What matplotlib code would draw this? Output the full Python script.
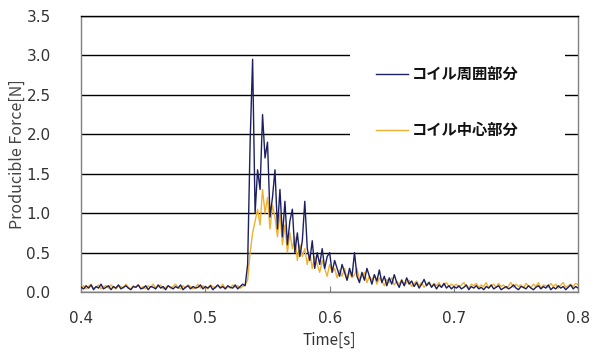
import numpy as np
import matplotlib
matplotlib.use('Agg')
import matplotlib.pyplot as plt
from matplotlib.patches import Rectangle

plt.rcParams['font.family'] = ['Noto Sans CJK JP', 'DejaVu Sans']

# sampled every 2 ms from 0.400 s to 0.800 s (201 points)
time_start = 0.4
time_step = 0.002

outer_force = [
    0.06, 0.04, 0.08, 0.05, 0.09, 0.03, 0.07, 0.05, 0.10, 0.04,
    0.06, 0.08, 0.03, 0.07, 0.05, 0.09, 0.04, 0.06, 0.08, 0.05,
    0.03, 0.07, 0.06, 0.09, 0.04, 0.05, 0.08, 0.03, 0.07, 0.06,
    0.04, 0.09, 0.05, 0.07, 0.03, 0.08, 0.06, 0.04, 0.07, 0.05,
    0.09, 0.03, 0.06, 0.08, 0.04, 0.07, 0.05, 0.06, 0.09, 0.04,
    0.07, 0.05, 0.08, 0.03, 0.06, 0.09, 0.05, 0.07, 0.04, 0.08,
    0.06, 0.05, 0.09, 0.04, 0.07, 0.10, 0.08,
    0.35, 1.90, 2.95, 1.00, 1.55, 1.30, 2.25, 1.70, 1.90, 0.95,
    1.20, 1.55, 0.80, 1.30, 0.70, 1.15, 0.60, 0.90, 1.05, 0.50,
    0.75, 0.45, 0.65, 1.15, 0.55, 0.40, 0.65, 0.30, 0.50, 0.35,
    0.55, 0.30, 0.45, 0.50, 0.25, 0.40, 0.30, 0.20, 0.35, 0.25,
    0.15, 0.30, 0.20, 0.50, 0.20, 0.12, 0.25, 0.15, 0.30, 0.20,
    0.10, 0.22, 0.14, 0.28, 0.12, 0.20, 0.08, 0.18, 0.10, 0.22,
    0.12, 0.06, 0.15, 0.08, 0.18, 0.10, 0.14, 0.07, 0.12, 0.05,
    0.10, 0.16, 0.08, 0.12, 0.06, 0.10, 0.04, 0.09, 0.06, 0.11,
    0.05, 0.08, 0.04, 0.07,
    0.05, 0.08, 0.04, 0.06, 0.09, 0.03, 0.07, 0.05, 0.08, 0.04,
    0.06, 0.03, 0.07, 0.05, 0.09, 0.04, 0.06, 0.08, 0.03, 0.05,
    0.07, 0.04, 0.06, 0.09, 0.05, 0.03, 0.07, 0.06, 0.04, 0.08,
    0.05, 0.03, 0.06, 0.08, 0.04, 0.07, 0.05, 0.09, 0.03, 0.06,
    0.04, 0.08, 0.05, 0.07, 0.03, 0.06, 0.09, 0.04, 0.07, 0.05,
]

center_force = [
    0.05, 0.08, 0.04, 0.07, 0.10, 0.05, 0.06, 0.09, 0.04, 0.07,
    0.08, 0.05, 0.09, 0.06, 0.04, 0.08, 0.07, 0.05, 0.10, 0.06,
    0.04, 0.08, 0.06, 0.09, 0.05, 0.07, 0.04, 0.08, 0.06, 0.10,
    0.05, 0.07, 0.09, 0.04, 0.06, 0.08, 0.05, 0.07, 0.10, 0.06,
    0.04, 0.08, 0.05, 0.09, 0.07, 0.04, 0.06, 0.10, 0.05, 0.08,
    0.06, 0.04, 0.09, 0.07, 0.05, 0.08, 0.06, 0.10, 0.04, 0.07,
    0.05, 0.09, 0.06, 0.08, 0.05, 0.07, 0.09,
    0.15, 0.50, 0.75, 0.90, 1.05, 0.85, 1.30, 1.00, 1.20, 0.80,
    1.10, 0.95, 0.70, 1.00, 0.60, 0.85, 0.50, 0.75, 0.55, 0.70,
    0.40, 0.60, 0.45, 0.55, 0.35, 0.50, 0.30, 0.45, 0.35, 0.25,
    0.40, 0.30, 0.20, 0.35, 0.25, 0.30, 0.18, 0.28, 0.20, 0.30,
    0.15, 0.25, 0.18, 0.22, 0.30, 0.15, 0.20, 0.25, 0.12, 0.20,
    0.15, 0.22, 0.10, 0.18, 0.14, 0.08, 0.16, 0.12, 0.18, 0.09,
    0.14, 0.10, 0.16, 0.08, 0.12, 0.15, 0.07, 0.11, 0.14, 0.08,
    0.12, 0.06, 0.10, 0.13, 0.07, 0.11, 0.08, 0.12, 0.06, 0.09,
    0.12, 0.07, 0.10, 0.08,
    0.10, 0.06, 0.09, 0.12, 0.07, 0.05, 0.10, 0.08, 0.11, 0.06,
    0.09, 0.07, 0.12, 0.05, 0.08, 0.10, 0.06, 0.11, 0.07, 0.09,
    0.05, 0.08, 0.12, 0.06, 0.10, 0.07, 0.09, 0.05, 0.11, 0.08,
    0.06, 0.10, 0.07, 0.12, 0.05, 0.09, 0.08, 0.06, 0.11, 0.07,
    0.10, 0.05, 0.09, 0.12, 0.06, 0.08, 0.10, 0.07, 0.11, 0.09,
]

series_labels = ['コイル周囲部分', 'コイル中心部分']
x_ticks = [0.4, 0.5, 0.6, 0.7, 0.8]
y_ticks = [0.0, 0.5, 1.0, 1.5, 2.0, 2.5, 3.0, 3.5]

t = time_start + time_step * np.arange(len(outer_force))

fig = plt.figure(figsize=(6.01, 3.54), dpi=100)
ax = fig.add_axes([0.135, 0.175, 0.827, 0.78])

ax.plot(t, outer_force, color='#1c2060', lw=1.0, zorder=3, label=series_labels[0])
ax.plot(t, center_force, color='#f0b030', lw=1.0, zorder=2, label=series_labels[1])

ax.set_xlim(0.4, 0.8)
ax.set_ylim(0.0, 3.5)
ax.set_xticks(x_ticks)
ax.set_yticks(y_ticks)
ax.set_xticklabels(['%.1f' % v for v in x_ticks])
ax.set_yticklabels(['%.1f' % v for v in y_ticks])

for lab in ax.get_xticklabels() + ax.get_yticklabels():
    lab.set_family('DejaVu Sans')
    lab.set_fontsize(11)
    lab.set_color('#333333')

ax.tick_params(axis='x', direction='in', length=4, width=0.8, color='#808080', pad=14)
ax.tick_params(axis='y', length=0, pad=22)

ax.yaxis.grid(True, color='black', lw=1.0, zorder=0.5)
ax.set_axisbelow(True)

for side in ['left', 'bottom', 'right']:
    ax.spines[side].set_color('#808080')
    ax.spines[side].set_linewidth(1.0)
ax.spines['top'].set_color('black')
ax.spines['top'].set_linewidth(1.0)

# white box behind the legend hides the grid lines there
ax.add_patch(Rectangle((0.541, 0.55), 0.433, 0.43, transform=ax.transAxes,
                       facecolor='white', edgecolor='none', zorder=1))

leg = ax.legend(loc='upper left', bbox_to_anchor=(0.58, 0.84), frameon=False,
                prop={'size': 11, 'weight': 'bold'}, handlelength=2.1,
                handletextpad=0.25, labelspacing=2.6, borderaxespad=0)
for txt in leg.get_texts():
    txt.set_color('#111111')

ax.set_xlabel('Time[s]', fontsize=11, color='#333333', labelpad=4)
ax.set_ylabel('Producible Force[N]', fontsize=11.5, color='#444444')
ax.yaxis.set_label_coords(-0.112, 0.5)

fig.savefig('out.png', dpi=100)
